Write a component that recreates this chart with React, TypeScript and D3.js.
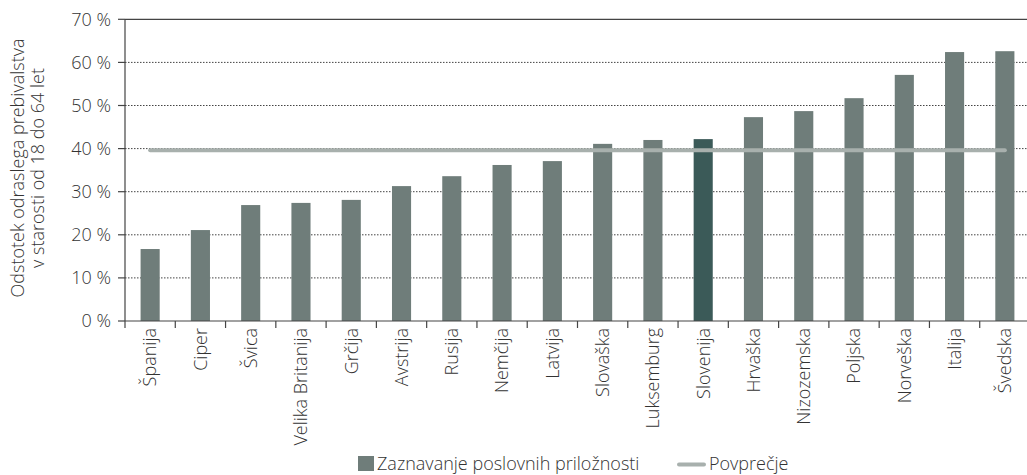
import React from "react";
import * as d3 from "d3";

const categories = ["Španija","Ciper","Švica","Velika Britanija","Grčija","Avstrija","Rusija","Nemčija","Latvija","Slovaška","Luksemburg","Slovenija","Hrvaška","Nizozemska","Poljska","Norveška","Italija","Švedska"];
const values = [16.7,21.1,26.9,27.4,28.1,31.3,33.6,36.2,37.1,41.1,42.0,42.2,47.3,48.7,51.7,57.1,62.4,62.6];
const average = 39.6;
const highlight = "Slovenija";
const yTicks = [0,10,20,30,40,50,60,70];
const seriesLabel = "Zaznavanje poslovnih priložnosti";
const avgLabel = "Povprečje";
const yTitle = ["Odstotek odraslega prebivalstva", "v starosti od 18 do 64 let"];

const W = 1027, H = 475;
const left = 125, right = 1030, top = 19.3, bottom = 321;
const font = "'Open Sans', 'Noto Sans', sans-serif";
const fs = 18;

export default function App() {
  const x = d3.scaleBand<string>().domain(categories).range([left, right]).paddingInner(0.62).paddingOuter(0.31);
  const step = x.step();
  const y = d3.scaleLinear().domain([0, 70]).range([bottom, top]);
  const avgX1 = (x(categories[0]) as number) + x.bandwidth() / 2;
  const avgX2 = (x(categories[categories.length - 1]) as number) + x.bandwidth() / 2;
  return (
    <svg width={W} height={H} style={{ position: "absolute", left: 0, top: 0, fontFamily: font }}>
      {yTicks.filter(t => t > 0 && t < 70).map(t => (
        <line key={"g"+t} x1={left} x2={W} y1={y(t)} y2={y(t)} stroke="#444" strokeWidth={1} strokeDasharray="1.5,1.5" />
      ))}
      <line x1={left} x2={W} y1={y(70)} y2={y(70)} stroke="#444" strokeWidth={1.3} />
      {categories.map((c, i) => (
        <rect key={c} x={x(c)} y={y(values[i])} width={x.bandwidth()} height={y(0) - y(values[i])} fill={c === highlight ? "#3b5a58" : "#6f7d7a"} />
      ))}
      <line x1={avgX1} x2={avgX2} y1={y(average)} y2={y(average)} stroke="#a8b0ad" strokeWidth={4} strokeLinecap="round" />
      <line x1={left} x2={left} y1={y(70)} y2={bottom + 7} stroke="#444" strokeWidth={1.2} />
      <line x1={left} x2={W} y1={bottom} y2={bottom} stroke="#444" strokeWidth={1.2} />
      {yTicks.map(t => (
        <g key={"t"+t}>
          <line x1={left - 7} x2={left} y1={y(t)} y2={y(t)} stroke="#444" strokeWidth={1.2} />
          <text x={111} y={y(t)} dy="0.35em" textAnchor="end" fontSize={fs} fill="#333" fontWeight={300}>{t} %</text>
        </g>
      ))}
      {categories.map((c, i) => {
        const tx = left + step * (i + 1);
        const cx = (x(c) as number) + x.bandwidth() / 2;
        return (
          <g key={"x"+c}>
            {i < categories.length - 1 && <line x1={tx} x2={tx} y1={bottom} y2={bottom + 7} stroke="#444" strokeWidth={1.2} />}
            <text transform={`translate(${cx},${bottom + 7}) rotate(-90)`} dy="0.35em" textAnchor="end" fontSize={fs} fill="#333" fontWeight={300}>{c}</text>
          </g>
        );
      })}
      <text transform={`translate(24,168) rotate(-90)`} textAnchor="middle" fontSize={fs} fill="#333" fontWeight={300}>
        <tspan x={0} dy="0">{yTitle[0]}</tspan>
        <tspan x={0} dy="20">{yTitle[1]}</tspan>
      </text>
      <rect x={358} y={456} width={16} height={15} fill="#6f7d7a" />
      <text x={377} y={470} fontSize={fs} fill="#333" fontWeight={300}>{seriesLabel}</text>
      <line x1={679} x2={704} y1={464.5} y2={464.5} stroke="#a8b0ad" strokeWidth={4} strokeLinecap="round" />
      <text x={709} y={470} fontSize={fs} fill="#333" fontWeight={300}>{avgLabel}</text>
    </svg>
  );
}
